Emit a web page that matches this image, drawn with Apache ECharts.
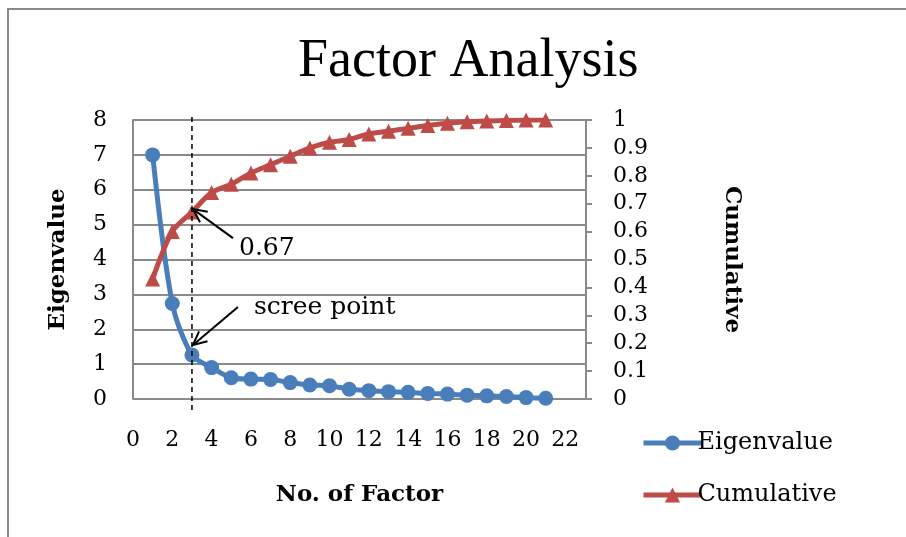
<!DOCTYPE html>
<html>
<head>
<meta charset="utf-8">
<script src="https://cdn.jsdelivr.net/npm/echarts@6/dist/echarts.min.js"></script>
<style>html,body{margin:0;padding:0;background:#fff;}#c{width:906px;height:537px;}</style>
</head>
<body>
<div id="c"></div>
<script>
const titleText = 'Factor Analysis';
const factors = [1,2,3,4,5,6,7,8,9,10,11,12,13,14,15,16,17,18,19,20,21];
const eigenvalues = [7.0,2.74,1.26,0.90,0.61,0.57,0.56,0.47,0.40,0.38,0.28,0.24,0.21,0.19,0.16,0.14,0.11,0.09,0.07,0.04,0.02];
const cumulative = [0.43,0.60,0.67,0.74,0.77,0.81,0.84,0.87,0.90,0.92,0.93,0.95,0.96,0.97,0.98,0.988,0.994,0.996,0.998,1.0,1.0];
const xTickLabels = ['0','2','4','6','8','10','12','14','16','18','20','22'];
const leftTickLabels = ['0','1','2','3','4','5','6','7','8'];
const rightTickLabels = ['0','0.1','0.2','0.3','0.4','0.5','0.6','0.7','0.8','0.9','1'];
const screeFactor = 3;
const cumAnnot = '0.67';
const screeAnnot = 'scree point';

const SERIF = '"DejaVu Serif", "Liberation Serif", serif';
const GRAY = '#8a8a8a';
const BLUE = '#4a7ebb';
const RED = '#be4b48';
const chart = echarts.init(document.getElementById('c'));

const option = {
  animation: false,
  backgroundColor: '#fff',
  title: {
    text: titleText, left: 293, top: 30,
    textStyle: {fontFamily: '"Liberation Serif", serif', fontSize: 54, fontWeight: 'normal', color: '#000'}
  },
  grid: {left: 133, right: 320, top: 120, bottom: 138, containLabel: false},
  legend: {
    orient: 'vertical', left: 636, top: 426, itemWidth: 58, itemHeight: 19, itemGap: 28,
    textStyle: {fontFamily: SERIF, fontSize: 24, color: '#000', padding: [0,0,0,-9]},
    data: [
      {name: 'Eigenvalue', itemStyle: {color: BLUE}, lineStyle: {color: BLUE, width: 5}},
      {name: 'Cumulative', itemStyle: {color: RED}, lineStyle: {color: RED, width: 5}}
    ]
  },
  xAxis: {
    type: 'value', min: 0, max: 23.05, interval: 2,
    name: 'No. of Factor', nameLocation: 'middle', nameGap: 85,
    nameTextStyle: {fontFamily: SERIF, fontSize: 23, fontWeight: 'bold', color: '#000'},
    axisLine: {show: false}, axisTick: {show: false}, splitLine: {show: false},
    axisLabel: {
      margin: 30, fontFamily: SERIF, fontSize: 22, color: '#000', showMaxLabel: false,
      formatter: v => { const i = Math.round(v / 2); return (Math.abs(v - i * 2) < 1e-6 && xTickLabels[i] !== undefined) ? xTickLabels[i] : ''; }
    }
  },
  yAxis: [
    {
      type: 'value', min: 0, max: 8, interval: 1, position: 'left',
      name: 'Eigenvalue', nameLocation: 'middle', nameGap: 63,
      nameTextStyle: {fontFamily: SERIF, fontSize: 23, fontWeight: 'bold', color: '#000'},
      axisLine: {show: true, lineStyle: {color: GRAY, width: 2}},
      axisTick: {show: false},
      splitLine: {show: true, lineStyle: {color: GRAY, width: 2}},
      axisLabel: {margin: 26, fontFamily: SERIF, fontSize: 22, color: '#000', formatter: v => leftTickLabels[Math.round(v)] ?? ''}
    },
    {
      type: 'value', min: 0, max: 1, interval: 0.1, position: 'right',
      name: 'Cumulative', nameLocation: 'middle', nameGap: 134, nameRotate: -90,
      nameTextStyle: {fontFamily: SERIF, fontSize: 23, fontWeight: 'bold', color: '#000'},
      axisLine: {show: true, lineStyle: {color: GRAY, width: 2}},
      axisTick: {show: true, inside: false, length: 6, lineStyle: {color: GRAY, width: 2}},
      splitLine: {show: false},
      axisLabel: {margin: 27, fontFamily: SERIF, fontSize: 22, color: '#000', formatter: v => rightTickLabels[Math.round(v * 10)] ?? ''}
    }
  ],
  series: [
    {
      name: 'Eigenvalue', type: 'line', yAxisIndex: 0, smooth: 0.3,
      data: factors.map((f, i) => [f, eigenvalues[i]]),
      symbol: 'circle', symbolSize: 15,
      lineStyle: {color: BLUE, width: 5},
      itemStyle: {color: BLUE}, z: 3
    },
    {
      name: 'Cumulative', type: 'line', yAxisIndex: 1, smooth: 0.3,
      data: factors.map((f, i) => [f, cumulative[i]]),
      symbol: 'triangle', symbolSize: 15,
      lineStyle: {color: RED, width: 5},
      itemStyle: {color: RED}, z: 3
    }
  ],
  graphic: []
};
chart.setOption(option);

// annotations positioned from library scales
const pTop = chart.convertToPixel({xAxisIndex: 0, yAxisIndex: 0}, [screeFactor, 8]);
const pBot = chart.convertToPixel({xAxisIndex: 0, yAxisIndex: 0}, [screeFactor, 0]);
const pCum = chart.convertToPixel({xAxisIndex: 0, yAxisIndex: 1}, [screeFactor, cumulative[screeFactor - 1]]);
const pEig = chart.convertToPixel({xAxisIndex: 0, yAxisIndex: 0}, [screeFactor, eigenvalues[screeFactor - 1]]);

function arrow(tip, tail) {
  const ang = Math.atan2(tail[1] - tip[1], tail[0] - tip[0]);
  const L = 15, spread = 0.45;
  const a1 = [tip[0] + L * Math.cos(ang + spread), tip[1] + L * Math.sin(ang + spread)];
  const a2 = [tip[0] + L * Math.cos(ang - spread), tip[1] + L * Math.sin(ang - spread)];
  return [
    {type: 'line', shape: {x1: tail[0], y1: tail[1], x2: tip[0], y2: tip[1]}, style: {stroke: '#000', lineWidth: 2}, z: 10},
    {type: 'polyline', shape: {points: [a1, tip, a2]}, style: {stroke: '#000', lineWidth: 2, fill: null}, z: 10}
  ];
}
const cumTip = [pCum[0] + 1, pCum[1] - 3];
const eigTip = [pEig[0] + 1, pEig[1] - 10];
const graphics = [
  {type: 'rect', shape: {x: 8, y: 9, width: 1200, height: 1200}, style: {stroke: GRAY, lineWidth: 2, fill: null}, z: -1, silent: true},
  {type: 'line', shape: {x1: pTop[0], y1: pTop[1] - 3, x2: pBot[0], y2: pBot[1] + 14}, style: {stroke: '#000', lineWidth: 1.5, lineDash: [5, 4]}, z: 9},
  ...arrow(cumTip, [cumTip[0] + 40, cumTip[1] + 29]),
  ...arrow(eigTip, [eigTip[0] + 45, eigTip[1] - 38]),
  {type: 'text', x: 239, y: 236, style: {text: cumAnnot, font: '25px "DejaVu Serif", serif', fill: '#000'}, z: 10},
  {type: 'text', x: 254, y: 295, style: {text: screeAnnot, font: '25px "DejaVu Serif", serif', fill: '#000'}, z: 10}
];
chart.setOption({graphic: graphics});
</script>
</body>
</html>
